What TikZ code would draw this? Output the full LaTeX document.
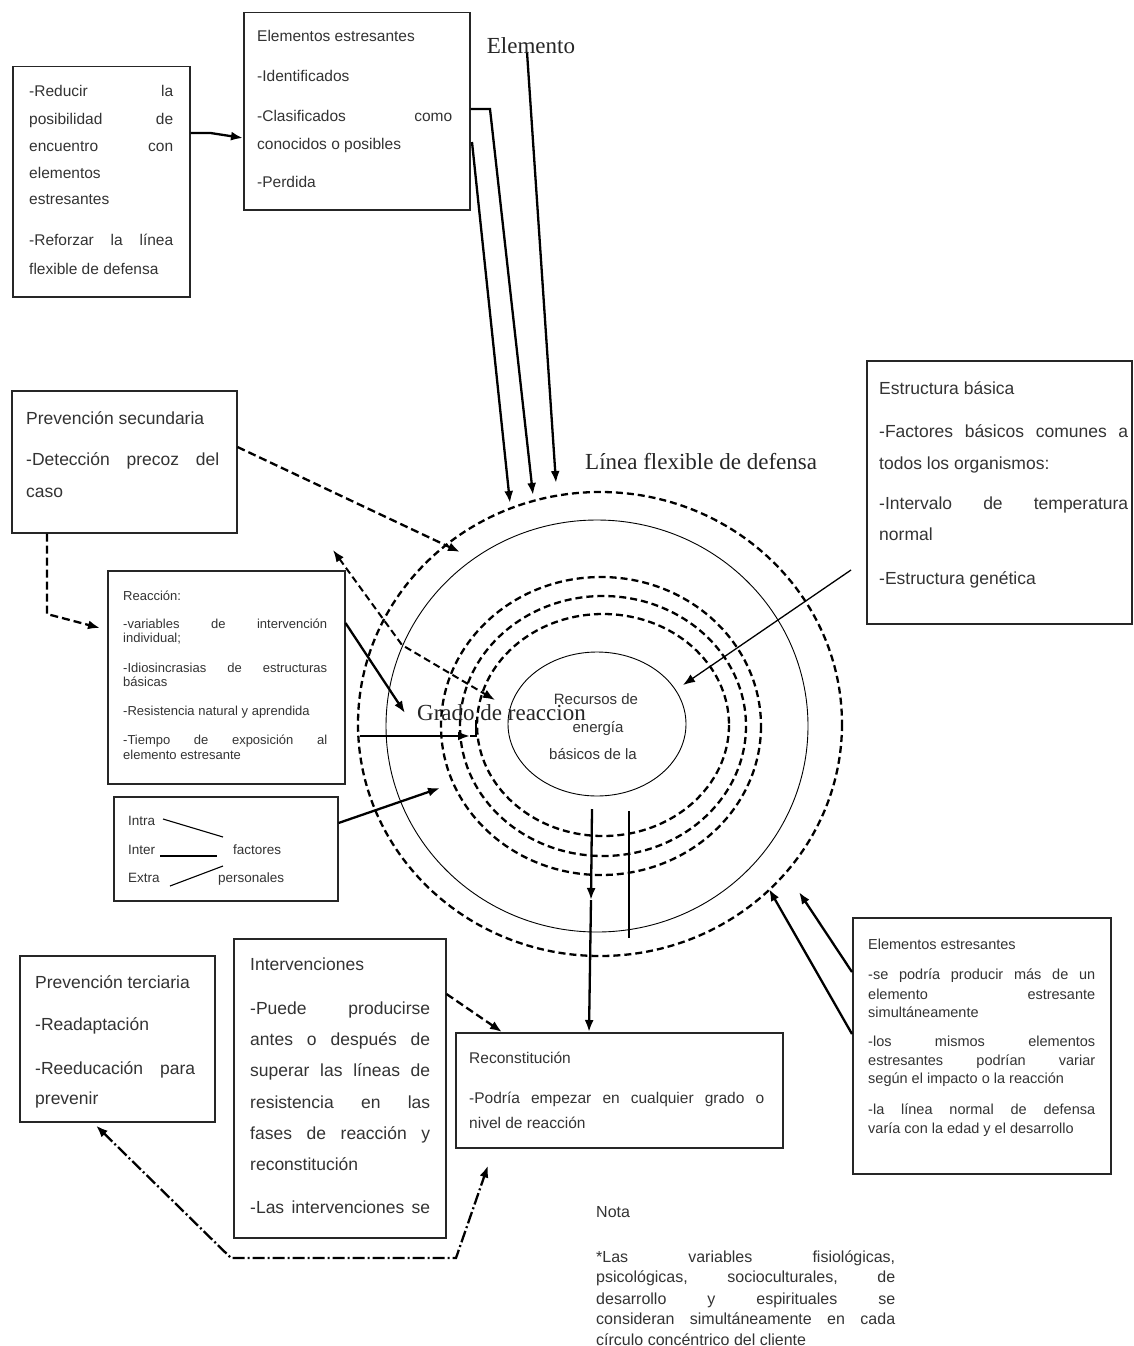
\documentclass[tikz,border=0pt]{standalone}
\usepackage{fontspec}
\setmainfont{Liberation Sans}
\newfontfamily\serifF{Liberation Serif}
\usetikzlibrary{arrows.meta}
\newcommand{\TJ}[6]{\node[tx,#1] (#2) at (#3,#4) {\makebox[#5pt][s]{#6}};}
\newcommand{\TL}[5]{\node[tx,#1] (#2) at (#3,#4) {#5};}
\begin{document}
\begin{tikzpicture}[x=1pt,y=-1pt,
 >={Latex[length=12pt,width=9pt]},
 box/.style={draw=black!85, line width=1.5pt, inner sep=0pt, anchor=north west, fill=white},
 tx/.style={inner sep=0pt, anchor=mid west, text=black!80},
 fA/.style={font=\fontsize{15.5}{18}\selectfont},
 fP/.style={font=\fontsize{17.5}{20}\selectfont},
 fR/.style={font=\fontsize{13}{15}\selectfont},
 fI/.style={font=\fontsize{13.5}{16}\selectfont},
 fE/.style={font=\fontsize{14.5}{17}\selectfont},
 fC/.style={font=\fontsize{15.5}{18}\selectfont},
 fN/.style={font=\fontsize{16}{19}\selectfont},
 fK/.style={font=\fontsize{15}{18}\selectfont},
 fS/.style={font=\serifF\fontsize{23}{26}\selectfont, text=black!85},
 conn/.style={line width=2.3pt, ->},
 tconn/.style={line width=1.3pt, ->},
 dconn/.style={line width=2.3pt, dash pattern=on 8pt off 4pt, ->},
 dconnB/.style={line width=2pt, dash pattern=on 7pt off 4pt, <->},
 ddconn/.style={line width=2.3pt, dash pattern=on 12pt off 3pt on 2pt off 3pt, <->},
 dcirc/.style={line width=2.3pt, dash pattern=on 7pt off 4pt},
 scirc/.style={line width=0.9pt},
 thinl/.style={line width=1.1pt}
]
\useasboundingbox (0,0) rectangle (1133,1346);
\fill[white] (0,0) rectangle (1133,1346);

% concentric circles
\draw[dcirc] (600,724) ellipse [x radius=242, y radius=232];
\draw[scirc] (597,726) ellipse [x radius=211, y radius=206];
\draw[dcirc] (601,726) ellipse [x radius=160, y radius=149];
\draw[dcirc] (603,726) ellipse [x radius=143, y radius=130];
\draw[dcirc] (603,725) ellipse [x radius=126, y radius=111];
\draw[scirc] (597,724) ellipse [x radius=89, y radius=72];

% boxes
\node[box, minimum width=177pt, minimum height=230pt] (boxA) at (12,66) {};
\node[box, minimum width=226pt, minimum height=197pt] (boxB) at (243,12) {};
\node[box, minimum width=225pt, minimum height=142pt] (PS) at (11,390) {};
\node[box, minimum width=237pt, minimum height=213pt] (Reac) at (107,570) {};
\node[box, minimum width=224pt, minimum height=104pt] (Intra) at (113,796) {};
\node[box, minimum width=265pt, minimum height=263pt] (EB) at (866,360) {};
\node[box, minimum width=258pt, minimum height=256pt] (ER) at (852,917) {};
\node[box, minimum width=327pt, minimum height=115pt] (Recon) at (455,1032) {};
\node[box, minimum width=212pt, minimum height=299pt] (Interv) at (233,938) {};
\node[box, minimum width=195pt, minimum height=166pt] (PT) at (19,955) {};

% coordinates
\coordinate (L1s) at (472,142);
\coordinate (L1e) at (510,503);
\coordinate (L2k) at (490,109);
\coordinate (L2e) at (533,495);
\coordinate (L3s) at (527,52);
\coordinate (L3e) at (556,483);
\coordinate (PSe) at (460,552);
\coordinate (PSk) at (47,614);
\coordinate (DA1) at (333,550);
\coordinate (DAk) at (402,645);
\coordinate (DA2) at (495,700);
\coordinate (RAe) at (405,713);
\coordinate (GAs) at (360,736);
\coordinate (GAe) at (470,736);
\coordinate (GAk) at (476,736);
\coordinate (GAt) at (476,720);
\coordinate (IAe) at (440,788);
\coordinate (EBs) at (851,570);
\coordinate (EBe) at (683,685);
\coordinate (ER1e) at (799,892);
\coordinate (ER2e) at (769,889);
\coordinate (VAs) at (592,809);
\coordinate (VAm) at (591,900);
\coordinate (VTs) at (629,811);
\coordinate (VTe) at (629,938);
\coordinate (BK1) at (231,1258);
\coordinate (BK2) at (456,1258);

% connectors
\draw[conn] ([yshift=-67pt]boxA.north east) -- ++(20,0) -- ([yshift=-126pt]boxB.north west);
\draw[conn] (L1s) -- (L1e);
\draw[conn] ([yshift=-97pt]boxB.north east) -- (L2k) -- (L2e);
\draw[conn] (L3s) -- (L3e);
\draw[dconn] ([yshift=-57pt]PS.north east) -- (PSe);
\draw[dconn] ([xshift=36pt]PS.south west) -- (PSk) -- ([xshift=-7pt,yshift=-58pt]Reac.north west);
\draw[dconnB] (DA1) -- (DAk) -- (DA2);
\draw[conn] ([yshift=-53pt]Reac.north east) -- (RAe);
\draw[conn] (GAs) -- (GAe);
\draw[thinl] (GAe) -- (GAk) -- (GAt);
\draw[conn] ([yshift=-27pt]Intra.north east) -- (IAe);
\draw[tconn] (EBs) -- (EBe);
\draw[conn] ([yshift=-55pt]ER.north west) -- (ER1e);
\draw[conn] ([yshift=-117pt]ER.north west) -- (ER2e);
\draw[conn] (VAs) -- (VAm);
\draw[conn] (VAm) -- ([xshift=134pt]Recon.north west);
\draw[thinl] (VTs) -- (VTe);
\draw[dconn] ([yshift=-56pt]Interv.north east) -- ([xshift=47pt]Recon.north west);
\draw[ddconn] ([xshift=77pt,yshift=-3pt]PT.south west) -- (BK1) -- (BK2) -- ([xshift=33pt,yshift=-17pt]Recon.south west);

% labels
\node[fS, inner sep=0pt] (elem) at (531,46) {Elemento};
\node[fS, inner sep=0pt, anchor=mid west] (linea) at (585,467) {Línea flexible de defensa};
\node[fS, inner sep=0pt, anchor=mid west] (grado) at (417,718) {Grado de reaccion};
\node[fK, inner sep=0pt, anchor=mid, text=black!80] (k1) at (596,702) {Recursos de};
\node[fK, inner sep=0pt, anchor=mid, text=black!80] (k2) at (598,730) {energía};
\node[fK, inner sep=0pt, anchor=mid, text=black!80] (k3) at (593,757) {básicos de la};

% box A
\TJ{fA}{a1}{29}{94}{144}{-Reducir la}
\TJ{fA}{a2}{29}{122}{144}{posibilidad de}
\TJ{fA}{a3}{29}{149}{144}{encuentro con}
\TL{fA}{a4}{29}{176}{elementos}
\TL{fA}{a5}{29}{202}{estresantes}
\TJ{fA}{a6}{29}{243}{144}{-Reforzar la línea}
\TL{fA}{a7}{29}{272}{flexible de defensa}
% box B
\TL{fA}{b1}{257}{39}{Elementos estresantes}
\TL{fA}{b2}{257}{79}{-Identificados}
\TJ{fA}{b3}{257}{119}{195}{-Clasificados como}
\TL{fA}{b4}{257}{147}{conocidos o posibles}
\TL{fA}{b5}{257}{185}{-Perdida}
% PS
\TL{fP}{p1}{26}{422}{Prevención secundaria}
\TJ{fP}{p2}{26}{463}{193}{-Detección precoz del}
\TL{fP}{p3}{26}{495}{caso}
% Reaccion
\TL{fR}{r1}{123}{598}{Reacción:}
\TJ{fR}{r2}{123}{626}{204}{-variables de intervención}
\TL{fR}{r3}{123}{640}{individual;}
\TJ{fR}{r4}{123}{670}{204}{-Idiosincrasias de estructuras}
\TL{fR}{r5}{123}{684}{básicas}
\TL{fR}{r6}{123}{713}{-Resistencia natural y aprendida}
\TJ{fR}{r7}{123}{742}{204}{-Tiempo de exposición al}
\TL{fR}{r8}{123}{757}{elemento estresante}
% Intra
\TL{fI}{i1}{128}{823}{Intra}
\TL{fI}{i2}{128}{852}{Inter}
\TL{fI}{i3}{128}{880}{Extra}
\TL{fI}{i4}{233}{852}{factores}
\TL{fI}{i5}{218}{880}{personales}
\draw[thinl] (163,819) -- (223,837);
\draw[thinl] (160,856) -- (217,856);
\draw[thinl] (170,886) -- (223,866);
% Estructura basica
\TL{fP}{e1}{879}{392}{Estructura básica}
\TJ{fP}{e2}{879}{435}{249}{-Factores básicos comunes a}
\TL{fP}{e3}{879}{467}{todos los organismos:}
\TJ{fP}{e4}{879}{507}{249}{-Intervalo de temperatura}
\TL{fP}{e5}{879}{538}{normal}
\TL{fP}{e6}{879}{582}{-Estructura genética}
% Elementos estresantes right
\TL{fE}{s1}{868}{947}{Elementos estresantes}
\TJ{fE}{s2}{868}{977}{227}{-se podría producir más de un}
\TJ{fE}{s3}{868}{997}{227}{elemento estresante}
\TL{fE}{s4}{868}{1015}{simultáneamente}
\TJ{fE}{s5}{868}{1044}{227}{-los mismos elementos}
\TJ{fE}{s6}{868}{1063}{227}{estresantes podrían variar}
\TL{fE}{s7}{868}{1081}{según el impacto o la reacción}
\TJ{fE}{s8}{868}{1112}{227}{-la línea normal de defensa}
\TL{fE}{s9}{868}{1131}{varía con la edad y el desarrollo}
% Reconstitucion
\TL{fC}{c1}{469}{1061}{Reconstitución}
\TJ{fC}{c2}{469}{1101}{295}{-Podría empezar en cualquier grado o}
\TL{fC}{c3}{469}{1126}{nivel de reacción}
% Intervenciones
\TL{fP}{v1}{250}{968}{Intervenciones}
\TJ{fP}{v2}{250}{1012}{180}{-Puede producirse}
\TJ{fP}{v3}{250}{1043}{180}{antes o después de}
\TJ{fP}{v4}{250}{1074}{180}{superar las líneas de}
\TJ{fP}{v5}{250}{1106}{180}{resistencia en las}
\TJ{fP}{v6}{250}{1137}{180}{fases de reacción y}
\TL{fP}{v7}{250}{1168}{reconstitución}
\TJ{fP}{v8}{250}{1211}{180}{-Las intervenciones se}
% Prevencion terciaria
\TL{fP}{t1}{35}{986}{Prevención terciaria}
\TL{fP}{t2}{35}{1028}{-Readaptación}
\TJ{fP}{t3}{35}{1072}{160}{-Reeducación para}
\TL{fP}{t4}{35}{1102}{prevenir}
% Nota
\TL{fN}{n0}{596}{1215}{Nota}
\TJ{fN}{n1}{596}{1260}{299}{*Las variables fisiológicas,}
\TJ{fN}{n2}{596}{1280}{299}{psicológicas, socioculturales, de}
\TJ{fN}{n3}{596}{1302}{299}{desarrollo y espirituales se}
\TJ{fN}{n4}{596}{1322}{299}{consideran simultáneamente en cada}
\TL{fN}{n5}{596}{1343}{círculo concéntrico del cliente}
\end{tikzpicture}
\end{document}
